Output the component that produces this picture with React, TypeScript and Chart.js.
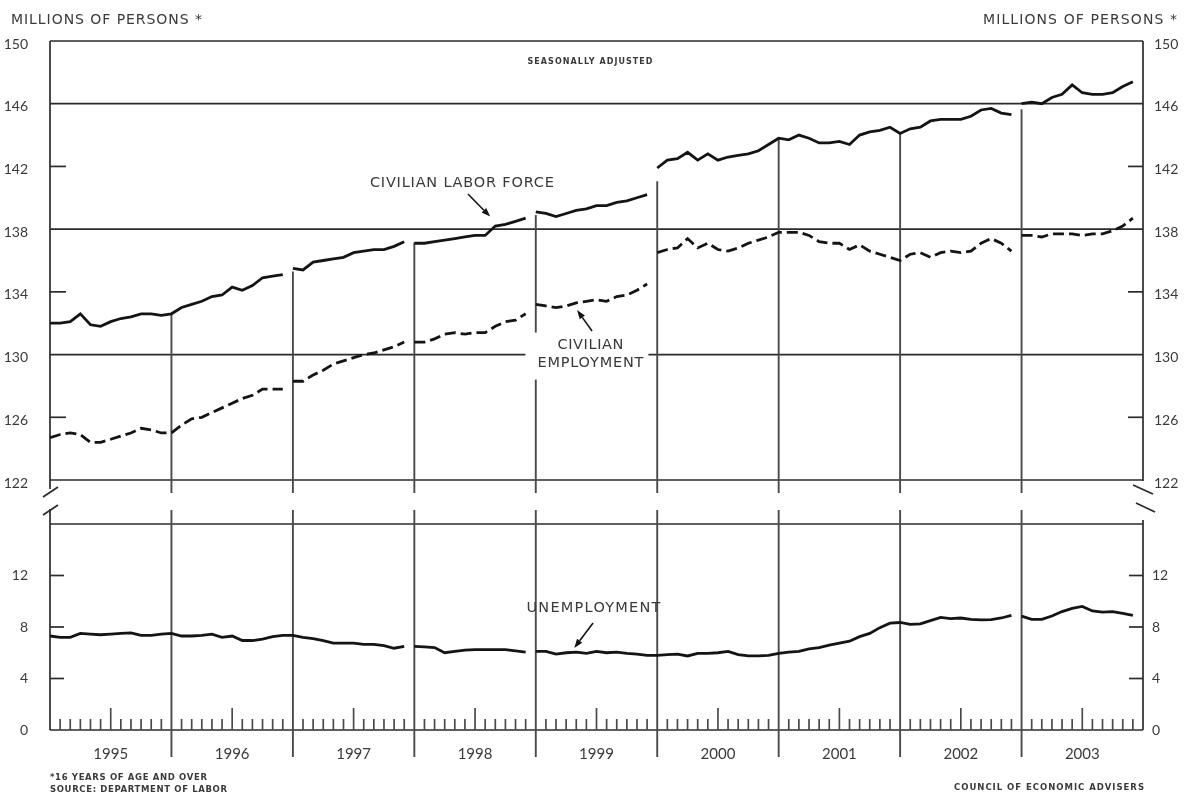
import React, { useEffect, useRef } from 'react';
import { Chart, registerables } from 'chart.js';

Chart.register(...registerables);

// ---------- data (millions of persons, monthly, Jan 1995 – Dec 2003) ----------
const years = ['1995', '1996', '1997', '1998', '1999', '2000', '2001', '2002', '2003'];

const laborForce = [
  132.0, 132.0, 132.1, 132.6, 131.9, 131.8, 132.1, 132.3, 132.4, 132.6, 132.6, 132.5,
  132.6, 133.0, 133.2, 133.4, 133.7, 133.8, 134.3, 134.1, 134.4, 134.9, 135.0, 135.1,
  135.5, 135.4, 135.9, 136.0, 136.1, 136.2, 136.5, 136.6, 136.7, 136.7, 136.9, 137.2,
  137.1, 137.1, 137.2, 137.3, 137.4, 137.5, 137.6, 137.6, 138.2, 138.3, 138.5, 138.7,
  139.1, 139.0, 138.8, 139.0, 139.2, 139.3, 139.5, 139.5, 139.7, 139.8, 140.0, 140.2,
  141.9, 142.4, 142.5, 142.9, 142.4, 142.8, 142.4, 142.6, 142.7, 142.8, 143.0, 143.4,
  143.8, 143.7, 144.0, 143.8, 143.5, 143.5, 143.6, 143.4, 144.0, 144.2, 144.3, 144.5,
  144.1, 144.4, 144.5, 144.9, 145.0, 145.0, 145.0, 145.2, 145.6, 145.7, 145.4, 145.3,
  146.0, 146.1, 146.0, 146.4, 146.6, 147.2, 146.7, 146.6, 146.6, 146.7, 147.1, 147.4,
];

const employment = [
  124.7, 124.9, 125.0, 124.9, 124.4, 124.4, 124.6, 124.8, 125.0, 125.3, 125.2, 125.0,
  125.0, 125.5, 125.9, 126.0, 126.3, 126.6, 126.9, 127.2, 127.4, 127.8, 127.8, 127.8,
  128.3, 128.3, 128.7, 129.0, 129.4, 129.6, 129.8, 130.0, 130.1, 130.3, 130.5, 130.8,
  130.8, 130.8, 131.0, 131.3, 131.4, 131.3, 131.4, 131.4, 131.8, 132.1, 132.2, 132.6,
  133.2, 133.1, 133.0, 133.1, 133.3, 133.4, 133.5, 133.4, 133.7, 133.8, 134.1, 134.5,
  136.5, 136.7, 136.8, 137.4, 136.8, 137.1, 136.7, 136.6, 136.8, 137.1, 137.3, 137.5,
  137.8, 137.8, 137.8, 137.6, 137.2, 137.1, 137.1, 136.7, 137.0, 136.6, 136.4, 136.2,
  136.0, 136.4, 136.5, 136.2, 136.5, 136.6, 136.5, 136.6, 137.1, 137.4, 137.1, 136.6,
  137.6, 137.6, 137.5, 137.7, 137.7, 137.7, 137.6, 137.7, 137.7, 137.9, 138.2, 138.7,
];

const unemployment = [
  7.3, 7.2, 7.2, 7.5, 7.45, 7.4, 7.45, 7.5, 7.55, 7.35, 7.35, 7.45,
  7.5, 7.3, 7.3, 7.35, 7.45, 7.2, 7.3, 6.95, 6.95, 7.05, 7.25, 7.35,
  7.35, 7.2, 7.1, 6.95, 6.75, 6.75, 6.75, 6.65, 6.65, 6.55, 6.35, 6.5,
  6.5, 6.45, 6.4, 6.0, 6.1, 6.2, 6.25, 6.25, 6.25, 6.25, 6.15, 6.05,
  6.1, 6.1, 5.9, 6.0, 6.05, 5.95, 6.1, 6.0, 6.05, 5.95, 5.9, 5.8,
  5.8, 5.85, 5.9, 5.75, 5.95, 5.95, 6.0, 6.1, 5.85, 5.75, 5.75, 5.8,
  5.95, 6.05, 6.1, 6.3, 6.4, 6.6, 6.75, 6.9, 7.25, 7.5, 7.95, 8.3,
  8.35, 8.2, 8.25, 8.5, 8.75, 8.65, 8.7, 8.6, 8.55, 8.58, 8.7, 8.9,
  8.85, 8.6, 8.6, 8.85, 9.2, 9.45, 9.6, 9.25, 9.15, 9.2, 9.05, 8.9,
];

// month indices where a new (population-control adjusted) segment begins
const topSeriesBreaks = [24, 36, 48, 60, 96];
const unemploymentBreaks = [36, 48, 96];
const topFullGrid = [146, 138, 130];
const topMinorTicks = [142, 134, 126];
const bottomMinorTicks = [12, 8, 4];

const INK = '#141414';
const GRID = '#2b2b2b';
const VLINE = '#4a4a4a';
const TEXT = '#3a3a3a';
const NUMFONT = 'Lato, "DejaVu Sans", sans-serif';
const LABELFONT = '"DejaVu Sans", Lato, sans-serif';

const breakSeg = (breaks: number[]) => (c: any) => (breaks.includes(c.p1DataIndex) ? 'rgba(0,0,0,0)' : undefined);

function fitText(ctx: any, text: string, x: number, y: number, size: number, width: number, align: string, weight = 'normal') {
  ctx.save();
  ctx.font = `${weight} ${size}px ${LABELFONT}`;
  ctx.letterSpacing = '0px';
  const w = ctx.measureText(text).width;
  const ls = text.length > 1 ? (width - w) / (text.length - 1) : 0;
  ctx.letterSpacing = `${ls}px`;
  ctx.textBaseline = 'middle';
  ctx.textAlign = 'left';
  ctx.fillStyle = TEXT;
  const x0 = align === 'left' ? x : align === 'right' ? x - width : x - width / 2;
  ctx.fillText(text, x0, y);
  ctx.restore();
}

function seg(ctx: any, x1: number, y1: number, x2: number, y2: number) {
  ctx.beginPath();
  ctx.moveTo(x1, y1);
  ctx.lineTo(x2, y2);
  ctx.stroke();
}

function arrow(ctx: any, x1: number, y1: number, x2: number, y2: number) {
  ctx.save();
  ctx.strokeStyle = INK;
  ctx.fillStyle = INK;
  ctx.lineWidth = 1.6;
  const a = Math.atan2(y2 - y1, x2 - x1);
  const hl = 9, hw = 3.2;
  const bx = x2 - hl * Math.cos(a), by = y2 - hl * Math.sin(a);
  seg(ctx, x1, y1, bx, by);
  ctx.beginPath();
  ctx.moveTo(x2, y2);
  ctx.lineTo(bx + hw * Math.sin(a), by - hw * Math.cos(a));
  ctx.lineTo(bx - hw * Math.sin(a), by + hw * Math.cos(a));
  ctx.closePath();
  ctx.fill();
  ctx.restore();
}

const decor = {
  id: 'decor',
  beforeDatasetsDraw(chart: any) {
    const { ctx, chartArea: ca, scales } = chart;
    const xs = scales.x, yT = scales.yTop, yB = scales.yBot;
    const L = ca.left, R = ca.right;
    const t150 = yT.getPixelForValue(150), t122 = yT.getPixelForValue(122);
    const b16 = yB.getPixelForValue(16), b0 = yB.getPixelForValue(0);
    ctx.save();
    ctx.strokeStyle = GRID;
    ctx.lineWidth = 1.7;
    // top panel frame + grid
    seg(ctx, L, t150, R, t150);
    [...topFullGrid, 122].forEach((v) => { const p = yT.getPixelForValue(v); seg(ctx, L, p, R, p); });
    topMinorTicks.forEach((v) => { const p = yT.getPixelForValue(v); seg(ctx, L, p, L + 16, p); seg(ctx, R - 15, p, R, p); });
    seg(ctx, L, t150, L, t122 + 9);
    seg(ctx, R, t150, R, t122 + 1);
    // break marks
    seg(ctx, L - 7, t122 + 17, L + 8, t122 + 7);
    seg(ctx, L - 7, t122 + 35, L + 8, t122 + 25);
    seg(ctx, R - 10, t122 + 5, R + 10, t122 + 14);
    seg(ctx, R - 7, t122 + 23, R + 12, t122 + 32);
    // bottom panel frame
    seg(ctx, L, b16, R, b16);
    seg(ctx, L, b16 - 15, L, b0);
    seg(ctx, R, b16 - 4, R, b0);
    seg(ctx, L, b0, R, b0);
    bottomMinorTicks.forEach((v) => { const p = yB.getPixelForValue(v); seg(ctx, L, p, L + 14, p); seg(ctx, R - 14, p, R, p); });
    // monthly ticks
    ctx.strokeStyle = VLINE;
    ctx.lineWidth = 1.7;
    for (let i = 1; i < laborForce.length; i++) {
      if (i % 12 === 0) continue;
      const xp = xs.getPixelForValue(i);
      seg(ctx, xp, b0, xp, b0 - (i % 12 === 6 ? 22 : 11));
    }
    // year boundary lines
    ctx.lineWidth = 1.9;
    for (let k = 1; k < years.length; k++) {
      const i = 12 * k;
      const xp = xs.getPixelForValue(i);
      const v = topSeriesBreaks.includes(i) ? (laborForce[i - 1] + laborForce[i]) / 2 : laborForce[i];
      seg(ctx, xp, t122 + 13, xp, yT.getPixelForValue(v));
      seg(ctx, xp, b16 - 14, xp, b0 + 27);
    }
    // white backing for employment label
    const cx = xs.getPixelForValue(53.4), cy = yT.getPixelForValue(130.0);
    ctx.fillStyle = '#ffffff';
    ctx.fillRect(cx - 65, cy - 22, 123, 47);
    ctx.restore();
  },
  afterDatasetsDraw(chart: any) {
    const { ctx, scales } = chart;
    const xs = scales.x, yT = scales.yTop, yB = scales.yBot;
    // right-hand axis labels
    ctx.save();
    ctx.font = `14px ${NUMFONT}`;
    ctx.fillStyle = TEXT;
    ctx.textAlign = 'left';
    ctx.textBaseline = 'middle';
    yT.ticks.forEach((t: any) => ctx.fillText(String(t.value), 1154, yT.getPixelForValue(t.value) + 3));
    yB.ticks.forEach((t: any) => { if (t.value < 16) ctx.fillText(String(t.value), 1152, yB.getPixelForValue(t.value)); });
    ctx.restore();

    fitText(ctx, 'MILLIONS OF PERSONS *', 11, 20, 14, 191, 'left');
    fitText(ctx, 'MILLIONS OF PERSONS *', 1177, 20, 14, 194, 'right');
    fitText(ctx, 'SEASONALLY ADJUSTED', 590, 62, 8, 125, 'center', 'bold');

    // labor force label
    fitText(ctx, 'CIVILIAN LABOR FORCE', xs.getPixelForValue(40.7), yT.getPixelForValue(140.94), 14.5, 184, 'center');
    arrow(ctx, xs.getPixelForValue(41.3), yT.getPixelForValue(140.24), xs.getPixelForValue(43.5), yT.getPixelForValue(138.8));
    // employment label
    const ex = xs.getPixelForValue(53.4), ey = yT.getPixelForValue(130.0);
    fitText(ctx, 'CIVILIAN', ex, ey - 9, 14.5, 66, 'center');
    fitText(ctx, 'EMPLOYMENT', ex, ey + 9, 14.5, 106, 'center');
    arrow(ctx, xs.getPixelForValue(53.56), yT.getPixelForValue(131.5), xs.getPixelForValue(52.08), yT.getPixelForValue(132.84));
    // unemployment label
    fitText(ctx, 'UNEMPLOYMENT', xs.getPixelForValue(53.7), yB.getPixelForValue(9.48), 14.5, 134, 'center');
    arrow(ctx, xs.getPixelForValue(53.66), yB.getPixelForValue(8.31), xs.getPixelForValue(51.8), yB.getPixelForValue(6.37));

    // footnotes
    fitText(ctx, '*16 YEARS OF AGE AND OVER', 50, 778, 8.5, 157, 'left', 'bold');
    fitText(ctx, 'SOURCE: DEPARTMENT OF LABOR', 50, 790, 8.5, 177, 'left', 'bold');
    fitText(ctx, 'COUNCIL OF ECONOMIC ADVISERS', 1144, 788, 8.5, 190, 'right', 'bold');
  },
};

const hiddenGrid = { display: false };
const hiddenBorder = { display: false };

export default function App() {
  const ref = useRef<HTMLCanvasElement>(null);
  useEffect(() => {
    const canvas = ref.current;
    if (!canvas) return;
    const pts = (arr: number[]) => arr.map((v, i) => ({ x: i, y: v }));
    const chart = new Chart(canvas, {
      type: 'line',
      data: {
        datasets: [
          { label: 'Civilian labor force', data: pts(laborForce), yAxisID: 'yTop', borderColor: INK, borderWidth: 2.8, pointRadius: 0, tension: 0, segment: { borderColor: breakSeg(topSeriesBreaks) } },
          { label: 'Civilian employment', data: pts(employment), yAxisID: 'yTop', borderColor: INK, borderWidth: 2.8, borderDash: [11, 5], pointRadius: 0, tension: 0, segment: { borderColor: breakSeg(topSeriesBreaks) } },
          { label: 'Unemployment', data: pts(unemployment), yAxisID: 'yBot', borderColor: INK, borderWidth: 2.8, pointRadius: 0, tension: 0, segment: { borderColor: breakSeg(unemploymentBreaks) } },
        ],
      },
      options: {
        responsive: false,
        animation: false,
        events: [],
        layout: { padding: { top: 41, right: 42, bottom: 0, left: 0 } },
        plugins: { legend: { display: false }, tooltip: { enabled: false } },
        scales: {
          x: {
            type: 'linear', min: 0, max: 108,
            afterBuildTicks: (s: any) => { s.ticks = years.map((_, k) => ({ value: 12 * k + 6 })); },
            afterFit: (s: any) => { s.height = 68; },
            ticks: { callback: (_v: any, i: number) => years[i], font: { family: NUMFONT, size: 15 }, color: TEXT, padding: 7, maxRotation: 0, autoSkip: false },
            grid: hiddenGrid, border: hiddenBorder,
          },
          yBot: {
            type: 'linear', position: 'left', stack: 'panels', stackWeight: 206, weight: 1,
            min: 0, max: 16,
            afterFit: (s: any) => { s.width = 50; },
            ticks: { stepSize: 4, callback: (v: any) => (v === 16 ? '' : String(v)), font: { family: NUMFONT, size: 14 }, color: TEXT, padding: 14 },
            grid: hiddenGrid, border: hiddenBorder,
          },
          yGap: {
            type: 'linear', position: 'left', stack: 'panels', stackWeight: 44, weight: 2,
            min: 0, max: 1,
            afterFit: (s: any) => { s.width = 50; },
            ticks: { display: false },
            grid: hiddenGrid, border: hiddenBorder,
          },
          yTop: {
            type: 'linear', position: 'left', stack: 'panels', stackWeight: 439, weight: 3,
            min: 122, max: 150,
            afterFit: (s: any) => { s.width = 50; },
            ticks: { stepSize: 4, font: { family: NUMFONT, size: 14 }, color: TEXT, padding: 14, labelOffset: 3 },
            grid: hiddenGrid, border: hiddenBorder,
          },
        },
      } as any,
      plugins: [decor],
    });
    return () => chart.destroy();
  }, []);
  return (
    <div style={{ position: 'fixed', left: 0, top: 0, width: 1185, height: 798, background: '#ffffff' }}>
      <canvas ref={ref} width={1185} height={798} style={{ display: 'block' }} />
    </div>
  );
}
